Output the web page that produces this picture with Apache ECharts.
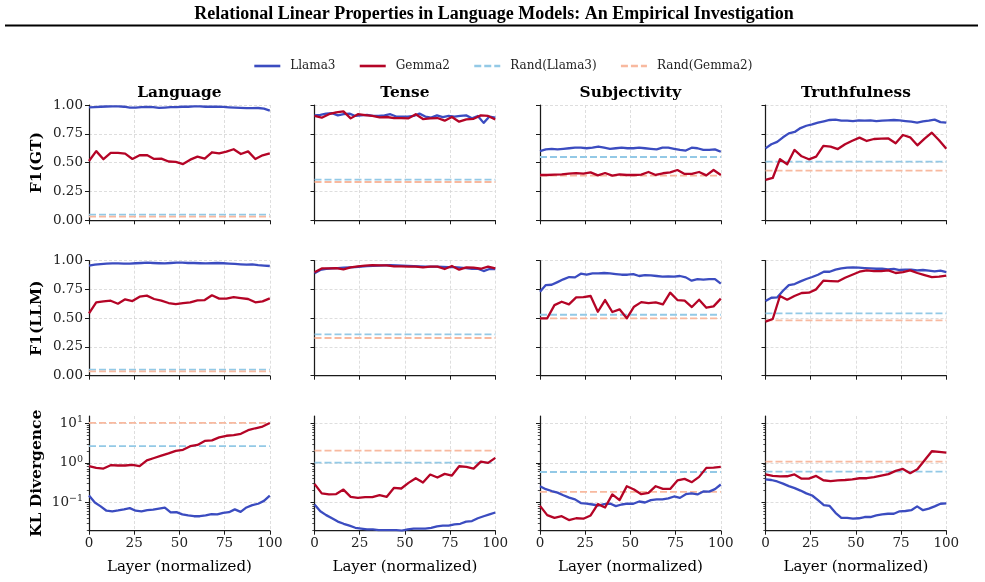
<!DOCTYPE html>
<html><head><meta charset="utf-8">
<script src="https://cdn.jsdelivr.net/npm/echarts@6/dist/echarts.min.js"></script>
<style>html,body{margin:0;padding:0;background:#fff}#c{width:985px;height:582px}</style>
</head><body><div id="c"></div>
<script>
const suptitle = 'Relational Linear Properties in Language Models: An Empirical Investigation';
const tasks = ['Language', 'Tense', 'Subjectivity', 'Truthfulness'];
const metrics = ['F1(GT)', 'F1(LLM)', 'KL Divergence'];
const legendNames = ['Llama3', 'Gemma2', 'Rand(Llama3)', 'Rand(Gemma2)'];
const xTicks = [0, 25, 50, 75, 100];
const f1Ticks = [0, 0.25, 0.5, 0.75, 1];
const klTicks = [0.1, 1, 10];
const klMinorTicks = [0.02,0.03,0.04,0.05,0.06,0.07,0.08,0.09,0.2,0.3,0.4,0.5,0.6,0.7,0.8,0.9,2,3,4,5,6,7,8,9];
const llamaLayerCount = 32;
const gemmaLayerCount = 26;

// ---- F1(GT) ----
const llamaGT_Language = [0.98,0.982,0.985,0.987,0.988,0.988,0.985,0.978,0.978,0.982,0.984,0.982,0.975,0.978,0.982,0.982,0.985,0.985,0.988,0.988,0.985,0.985,0.985,0.983,0.98,0.978,0.975,0.973,0.973,0.974,0.968,0.952];
const gemmaGT_Language = [0.514,0.60,0.53,0.584,0.584,0.578,0.532,0.564,0.566,0.532,0.535,0.51,0.506,0.488,0.526,0.552,0.535,0.59,0.58,0.595,0.616,0.575,0.598,0.532,0.564,0.58];
const llamaGT_Tense = [0.91,0.915,0.925,0.93,0.91,0.92,0.925,0.905,0.91,0.915,0.905,0.905,0.91,0.92,0.9,0.9,0.9,0.905,0.925,0.9,0.89,0.91,0.895,0.905,0.9,0.905,0.91,0.885,0.905,0.845,0.9,0.89];
const gemmaGT_Tense = [0.905,0.89,0.92,0.936,0.945,0.884,0.92,0.913,0.905,0.893,0.896,0.887,0.887,0.884,0.92,0.878,0.884,0.887,0.864,0.896,0.855,0.875,0.88,0.91,0.905,0.875];
const llamaGT_Subjectivity = [0.60,0.615,0.62,0.615,0.62,0.625,0.63,0.63,0.625,0.63,0.64,0.63,0.62,0.625,0.63,0.625,0.625,0.63,0.625,0.62,0.615,0.63,0.63,0.62,0.61,0.605,0.63,0.625,0.61,0.61,0.615,0.595];
const gemmaGT_Subjectivity = [0.393,0.393,0.396,0.399,0.405,0.41,0.405,0.416,0.39,0.41,0.387,0.399,0.393,0.393,0.396,0.419,0.393,0.408,0.416,0.436,0.402,0.402,0.419,0.39,0.436,0.393];
const llamaGT_Truthfulness = [0.624,0.66,0.68,0.72,0.754,0.766,0.80,0.82,0.832,0.847,0.858,0.87,0.873,0.864,0.864,0.861,0.867,0.864,0.867,0.861,0.864,0.867,0.87,0.867,0.861,0.855,0.847,0.858,0.864,0.873,0.852,0.847];
const gemmaGT_Truthfulness = [0.35,0.367,0.53,0.486,0.61,0.555,0.529,0.552,0.645,0.639,0.618,0.66,0.69,0.717,0.688,0.705,0.708,0.71,0.668,0.74,0.72,0.65,0.708,0.76,0.694,0.621];
const randLlamaGT = [0.05, 0.353, 0.549, 0.509];
const randGemmaGT = [0.032, 0.332, 0.387, 0.43];

// ---- F1(LLM) ----
const llamaLLM_Language = [0.957,0.965,0.971,0.974,0.977,0.977,0.975,0.975,0.978,0.98,0.983,0.98,0.978,0.977,0.98,0.983,0.983,0.98,0.98,0.978,0.977,0.978,0.98,0.978,0.975,0.972,0.968,0.965,0.968,0.962,0.958,0.954];
const gemmaLLM_Language = [0.542,0.638,0.646,0.652,0.626,0.664,0.649,0.687,0.696,0.667,0.652,0.632,0.623,0.632,0.638,0.655,0.658,0.699,0.67,0.67,0.684,0.675,0.667,0.638,0.646,0.672];
const llamaLLM_Tense = [0.89,0.92,0.928,0.933,0.936,0.94,0.942,0.945,0.948,0.952,0.955,0.958,0.96,0.962,0.96,0.958,0.955,0.952,0.95,0.948,0.948,0.948,0.946,0.945,0.944,0.94,0.935,0.93,0.93,0.91,0.928,0.928];
const gemmaLLM_Tense = [0.899,0.933,0.933,0.936,0.925,0.942,0.951,0.957,0.962,0.96,0.96,0.951,0.951,0.948,0.948,0.942,0.948,0.948,0.928,0.954,0.922,0.942,0.939,0.93,0.948,0.933];
const llamaLLM_Subjectivity = [0.73,0.788,0.791,0.814,0.838,0.858,0.855,0.887,0.878,0.89,0.89,0.893,0.89,0.884,0.878,0.878,0.884,0.867,0.875,0.872,0.867,0.861,0.864,0.861,0.867,0.855,0.826,0.84,0.835,0.84,0.84,0.8];
const gemmaLLM_Subjectivity = [0.499,0.499,0.614,0.643,0.62,0.681,0.684,0.693,0.556,0.658,0.554,0.577,0.499,0.6,0.64,0.632,0.638,0.62,0.722,0.658,0.652,0.597,0.661,0.591,0.603,0.67];
const llamaLLM_Truthfulness = [0.649,0.678,0.681,0.739,0.788,0.797,0.82,0.841,0.858,0.878,0.904,0.904,0.922,0.933,0.939,0.942,0.939,0.936,0.933,0.93,0.93,0.925,0.928,0.919,0.922,0.922,0.916,0.919,0.913,0.907,0.913,0.901];
const gemmaLLM_Truthfulness = [0.47,0.493,0.693,0.661,0.693,0.719,0.722,0.751,0.826,0.823,0.82,0.852,0.878,0.904,0.916,0.91,0.91,0.916,0.893,0.901,0.916,0.893,0.875,0.858,0.861,0.87];
const randLlamaLLM = [0.052, 0.359, 0.53, 0.542];
const randGemmaLLM = [0.038, 0.328, 0.499, 0.481];

// ---- KL Divergence ----
const llamaKL_Language = [0.15,0.1,0.08,0.062,0.06,0.063,0.067,0.072,0.062,0.06,0.064,0.066,0.07,0.074,0.056,0.057,0.05,0.047,0.045,0.045,0.047,0.051,0.05,0.055,0.057,0.067,0.058,0.075,0.086,0.093,0.11,0.15];
const gemmaKL_Language = [0.83,0.75,0.72,0.875,0.86,0.86,0.89,0.83,1.16,1.33,1.52,1.74,2.02,2.14,2.64,2.85,3.58,3.72,4.4,4.85,5.04,5.44,6.7,7.5,8.3,10.2];
const llamaKL_Tense = [0.089,0.06,0.048,0.04,0.033,0.029,0.026,0.023,0.022,0.021,0.021,0.02,0.02,0.02,0.02,0.0195,0.021,0.022,0.022,0.022,0.023,0.025,0.026,0.026,0.028,0.029,0.033,0.034,0.04,0.045,0.05,0.056];
const gemmaKL_Tense = [0.296,0.17,0.16,0.163,0.212,0.139,0.131,0.136,0.136,0.153,0.139,0.235,0.226,0.313,0.41,0.32,0.508,0.427,0.528,0.48,0.824,0.79,0.72,1.08,1.0,1.34];
const llamaKL_Subjectivity = [0.258,0.217,0.195,0.178,0.153,0.133,0.12,0.097,0.094,0.089,0.084,0.091,0.094,0.081,0.089,0.094,0.093,0.106,0.1,0.115,0.12,0.12,0.127,0.142,0.131,0.162,0.17,0.16,0.19,0.188,0.217,0.285];
const gemmaKL_Subjectivity = [0.082,0.048,0.041,0.045,0.036,0.04,0.039,0.047,0.091,0.075,0.16,0.115,0.258,0.213,0.162,0.175,0.258,0.22,0.22,0.36,0.395,0.326,0.444,0.75,0.76,0.79];
const llamaKL_Truthfulness = [0.385,0.37,0.34,0.3,0.26,0.23,0.2,0.17,0.15,0.115,0.086,0.082,0.055,0.041,0.041,0.039,0.04,0.043,0.043,0.047,0.05,0.052,0.052,0.06,0.061,0.064,0.08,0.064,0.07,0.08,0.093,0.095];
const gemmaKL_Truthfulness = [0.51,0.47,0.455,0.46,0.51,0.4,0.4,0.47,0.365,0.345,0.36,0.37,0.385,0.41,0.41,0.44,0.48,0.52,0.63,0.705,0.55,0.69,1.17,1.97,1.89,1.82];
const randLlamaKL = [2.64, 1.02, 0.59, 0.605];
const randGemmaKL = [10.2, 2.04, 0.186, 1.08];

const llamaRows = [
  [llamaGT_Language, llamaGT_Tense, llamaGT_Subjectivity, llamaGT_Truthfulness],
  [llamaLLM_Language, llamaLLM_Tense, llamaLLM_Subjectivity, llamaLLM_Truthfulness],
  [llamaKL_Language, llamaKL_Tense, llamaKL_Subjectivity, llamaKL_Truthfulness]
];
const gemmaRows = [
  [gemmaGT_Language, gemmaGT_Tense, gemmaGT_Subjectivity, gemmaGT_Truthfulness],
  [gemmaLLM_Language, gemmaLLM_Tense, gemmaLLM_Subjectivity, gemmaLLM_Truthfulness],
  [gemmaKL_Language, gemmaKL_Tense, gemmaKL_Subjectivity, gemmaKL_Truthfulness]
];
const randLlamaRows = [randLlamaGT, randLlamaLLM, randLlamaKL];
const randGemmaRows = [randGemmaGT, randGemmaLLM, randGemmaKL];

// ---- styles / layout ----
const C_LLAMA = '#3b4cc0', C_GEMMA = '#b40426', C_RL = '#93c9e6', C_RG = '#f8b99f';
const FONT = 'DejaVu Serif';
const colLeft = [89, 314.5, 540, 765.5];
const colW = 180.8;
const rowTop = [105, 260.7, 416];
const rowH = [115.3, 115, 114.7];
const KL_MIN = 0.0194, KL_MAX = 15.3;

const layerX = n => Array.from({length: n}, (_, i) => i * 100 / (n - 1));
const llamaX = layerX(llamaLayerCount);
const gemmaX = layerX(gemmaLayerCount);

const grids = [], xAxes = [], yAxes = [], series = [], titles = [];
titles.push({text: suptitle, left: 494, top: 5, padding: 0, textAlign: 'center',
  textStyle: {fontFamily: 'Liberation Serif', fontWeight: 'bold', fontSize: 18, color: '#000'}});
tasks.forEach((t, c) => titles.push({text: t, left: colLeft[c] + colW / 2, top: 85, padding: 0, textAlign: 'center',
  textStyle: {fontFamily: FONT, fontWeight: 'bold', fontSize: 15.4, color: '#000'}}));

const axisLineStyle = {color: '#1a1a1a', width: 1.25};
const gridLine = {show: true, lineStyle: {color: '#d6d6d6', width: 0.8, type: [3, 2]}};
const supMinus = n => (n < 0 ? '\u2212' + (-n) : '' + n);

let k = 0;
for (let r = 0; r < 3; r++) {
  for (let c = 0; c < 4; c++) {
    grids.push({left: colLeft[c], top: rowTop[r], width: colW, height: rowH[r]});
    xAxes.push({
      type: 'value', gridIndex: k, min: 0, max: 100, interval: 25,
      axisLine: {show: true, onZero: false, lineStyle: axisLineStyle},
      axisTick: {show: true, length: 4, lineStyle: {color: '#1a1a1a', width: 1}},
      axisLabel: {show: r === 2, fontFamily: FONT, fontSize: 13.5, color: '#222', margin: 6},
      splitLine: gridLine,
      name: r === 2 ? 'Layer (normalized)' : '', nameLocation: 'middle', nameGap: 29,
      nameTextStyle: {fontFamily: FONT, fontSize: 15, color: '#000'}
    });
    const yName = c === 0 ? metrics[r] : '';
    const yNameStyle = {fontFamily: FONT, fontWeight: 'bold', fontSize: 15.5, color: '#000'};
    if (r < 2) {
      yAxes.push({
        type: 'value', gridIndex: k, min: 0, max: 1, interval: 0.25,
        axisLine: {show: true, lineStyle: axisLineStyle},
        axisTick: {show: true, length: 4, lineStyle: {color: '#1a1a1a', width: 1}},
        axisLabel: {show: c === 0, fontFamily: FONT, fontSize: 13.5, color: '#222', margin: 6,
          formatter: v => v.toFixed(2)},
        splitLine: gridLine,
        name: yName, nameLocation: 'middle', nameGap: 44, nameRotate: 90, nameTextStyle: yNameStyle
      });
    } else {
      yAxes.push({
        type: 'log', logBase: 10, gridIndex: k, min: KL_MIN, max: KL_MAX, position: 'left',
        axisLine: {show: true, lineStyle: axisLineStyle},
        axisTick: {show: true, length: 4, customValues: klTicks, lineStyle: {color: '#1a1a1a', width: 1}},
        axisLabel: {show: c === 0, customValues: klTicks, fontFamily: FONT, fontSize: 13.5, color: '#222', margin: 6,
          formatter: v => '10{sup|' + supMinus(Math.round(Math.log10(v))) + '}',
          rich: {sup: {fontFamily: FONT, fontSize: 9.5, verticalAlign: 'top', color: '#222', padding: [0, 0, 7, 0]}}},
        splitLine: gridLine,
        name: yName, nameLocation: 'middle', nameGap: 44, nameRotate: 90, nameTextStyle: yNameStyle
      });
    }
    const yIdx = yAxes.length - 1;
    const mk = (name, xs, vals, color, width, dash, z) => ({
      name, type: 'line', xAxisIndex: k, yAxisIndex: yIdx, symbol: 'none', silent: true, z,
      data: xs.map((x, i) => [x, vals[i]]),
      lineStyle: {color, width, type: dash ? [7, 3] : 'solid', cap: 'butt', join: 'round'},
      itemStyle: {color}
    });
    series.push(mk('Rand(Llama3)', [0, 100], [randLlamaRows[r][c], randLlamaRows[r][c]], C_RL, 1.8, true, 2));
    series.push(mk('Rand(Gemma2)', [0, 100], [randGemmaRows[r][c], randGemmaRows[r][c]], C_RG, 1.8, true, 2));
    series.push(mk('Llama3', llamaX, llamaRows[r][c], C_LLAMA, 2.3, false, 3));
    series.push(mk('Gemma2', gemmaX, gemmaRows[r][c], C_GEMMA, 2.3, false, 4));
    if (r === 2) {
      yAxes.push({
        type: 'log', logBase: 10, gridIndex: k, min: KL_MIN, max: KL_MAX, position: 'left', offset: 0,
        axisLine: {show: false},
        axisTick: {show: true, length: 2.2, customValues: klMinorTicks, lineStyle: {color: '#1a1a1a', width: 0.8}},
        axisLabel: {show: false}, splitLine: {show: false}
      });
    }
    k++;
  }
}

const chart = echarts.init(document.getElementById('c'), null, {renderer: 'canvas'});
chart.setOption({
  animation: false,
  backgroundColor: '#fff',
  title: titles,
  legend: {
    data: legendNames, left: 253, top: 60, padding: 0, itemWidth: 26, itemHeight: 12, itemGap: 23,
    itemStyle: {opacity: 0}, lineStyle: {width: 2.6},
    textStyle: {fontFamily: FONT, fontSize: 12, color: '#222', padding: [0, 0, 0, 5]}
  },
  graphic: [{type: 'line', shape: {x1: 5, y1: 25.5, x2: 978, y2: 25.5}, style: {stroke: '#000', lineWidth: 2}}],
  grid: grids, xAxis: xAxes, yAxis: yAxes, series
});
</script></body></html>
